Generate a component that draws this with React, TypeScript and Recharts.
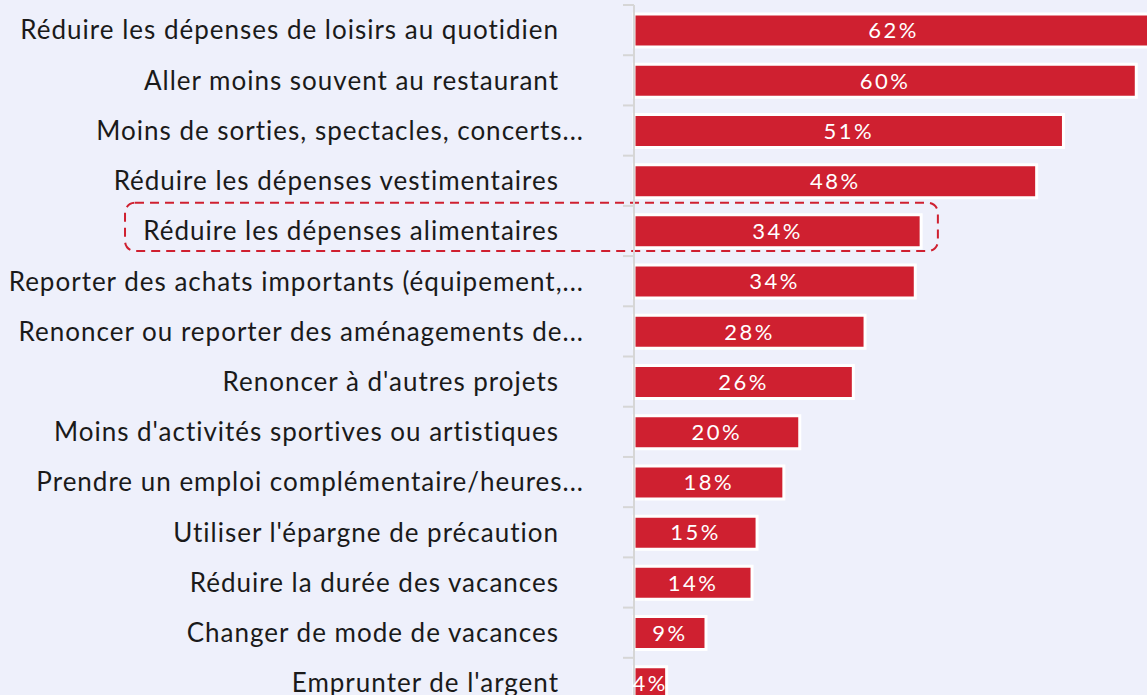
import React from "react";
import {
  BarChart,
  Bar,
  XAxis,
  YAxis,
  LabelList,
  ReferenceArea,
} from "recharts";

// survey answers, top to bottom
const categories = [
  "Réduire les dépenses de loisirs au quotidien",
  "Aller moins souvent au restaurant",
  "Moins de sorties, spectacles, concerts...",
  "Réduire les dépenses vestimentaires",
  "Réduire les dépenses alimentaires",
  "Reporter des achats importants (équipement,...",
  "Renoncer ou reporter des aménagements de...",
  "Renoncer à d'autres projets",
  "Moins d'activités sportives ou artistiques",
  "Prendre un emploi complémentaire/heures...",
  "Utiliser l'épargne de précaution",
  "Réduire la durée des vacances",
  "Changer de mode de vacances",
  "Emprunter de l'argent",
];

const shares = [62, 60, 51.3, 48.1, 34.3, 33.6, 27.6, 26.2, 19.8, 17.9, 14.7, 14.1, 8.6, 3.9];

const highlighted = "Réduire les dépenses alimentaires";

const data = categories.map((name, i) => ({ name, value: shares[i] }));

const RED = "#CF2030";
const BG = "#EEF0FB";
const FONT = "Lato, 'Noto Sans', sans-serif";
const HALF_BAND = 25.1;

const CategoryTick = (props: any) => {
  const { x, y, payload } = props;
  const label: string = payload.value;
  const cut = label.endsWith("...");
  return (
    <g>
      <line x1={x - 11} x2={x} y1={y - HALF_BAND} y2={y - HALF_BAND} stroke="#d6d6d6" strokeWidth={2} />
      <text
        x={cut ? x - 50 : x - 75}
        y={y}
        dy="0.36em"
        textAnchor="end"
        fill="#1a1a1a"
        fontSize={26}
        letterSpacing={1}
        fontFamily={FONT}
      >
        {label}
      </text>
    </g>
  );
};

const HighlightBox = (props: any) => {
  const { x, y, width, height } = props;
  return (
    <rect
      x={x}
      y={y - 3}
      width={width}
      height={height - 2}
      rx={10}
      ry={10}
      fill="none"
      stroke={RED}
      strokeWidth={2}
      strokeDasharray="9 6"
    />
  );
};

const App = () => {
  return (
    <div
      style={{
        position: "absolute",
        top: 0,
        left: 0,
        width: 1147,
        height: 695,
        overflow: "hidden",
        background: BG,
      }}
    >
      <BarChart
        width={1230}
        height={708}
        data={data}
        layout="vertical"
        margin={{ top: 5, right: 10, bottom: 0, left: 0 }}
      >
        <XAxis type="number" hide domain={[0, 70]} />
        <YAxis
          type="category"
          dataKey="name"
          width={634}
          tickLine={false}
          tickSize={0}
          tickMargin={0}
          axisLine={{ stroke: "#d6d6d6", strokeWidth: 2 }}
          tick={<CategoryTick />}
          interval={0}
        />
        <ReferenceArea
          y1={highlighted}
          y2={highlighted}
          x1={-60.8}
          x2={36.3}
          ifOverflow="visible"
          shape={<HighlightBox />}
        />
        <Bar
          dataKey="value"
          fill={RED}
          stroke="#ffffff"
          strokeWidth={3}
          barSize={33}
          isAnimationActive={false}
        >
          <LabelList
            dataKey="value"
            position="center"
            fill="#ffffff"
            fontSize={22}
            letterSpacing={2.5}
            fontFamily={FONT}
            formatter={(v: any) => `${Math.round(Number(v))}%`}
          />
        </Bar>
      </BarChart>
    </div>
  );
};

export default App;
